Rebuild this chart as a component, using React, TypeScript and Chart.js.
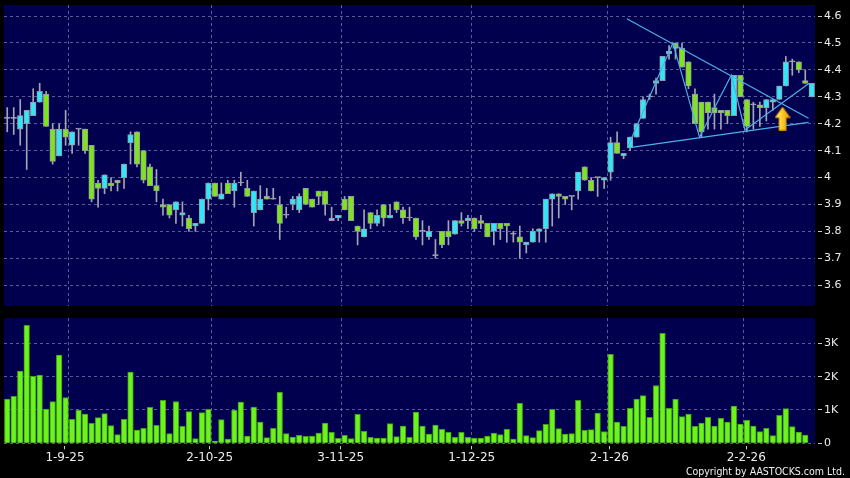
import React, { useEffect, useRef } from 'react';
import { Chart, registerables } from 'chart.js';

Chart.register(...registerables);

// ---- Data (index 0 = first trading day shown, ~18 Aug 2025) ----
const OPEN = [
  4.22, 4.22, 4.18, 4.20, 4.23, 4.28, 4.31, 4.18, 4.08, 4.18,
  4.12, 4.18, 4.18, 4.12, 3.98, 3.96, 3.98, 3.99, 4.00, 4.13,
  4.17, 4.10, 4.04, 3.97, 3.90, 3.90, 3.88, 3.86, 3.85, 3.82,
  3.83, 3.92, 3.98, 3.92, 3.98, 3.95, 3.98, 3.96, 3.87, 3.88,
  3.93, 3.92, 3.90, 3.86, 3.90, 3.88, 3.96, 3.92, 3.95, 3.95,
  3.84, 3.85, 3.92, 3.93, 3.82, 3.78, 3.87, 3.83, 3.90, 3.85,
  3.91, 3.88, 3.85, 3.85, 3.80, 3.78, 3.71, 3.80, 3.80, 3.79,
  3.84, 3.84, 3.85, 3.84, 3.83, 3.80, 3.83, 3.83, 3.79, 3.78,
  3.75, 3.76, 3.80, 3.81, 3.92, 3.94, 3.93, 3.93, 3.95, 4.04,
  3.99, 4.00, 3.99, 4.02, 4.13, 4.08, 4.11, 4.15, 4.22, 4.30,
  4.35, 4.36, 4.46, 4.50, 4.48, 4.43, 4.31, 4.28, 4.28, 4.26,
  4.25, 4.25, 4.23, 4.38, 4.29, 4.27, 4.27, 4.26, 4.28, 4.29,
  4.34, 4.43, 4.43, 4.36, 4.30,
];
const HIGH = [
  4.26, 4.26, 4.29, 4.25, 4.33, 4.35, 4.32, 4.20, 4.20, 4.25,
  4.17, 4.18, 4.18, 4.12, 3.99, 4.01, 4.00, 3.99, 4.05, 4.17,
  4.17, 4.10, 4.05, 4.03, 3.92, 3.90, 3.91, 3.91, 3.86, 3.83,
  3.92, 3.98, 3.98, 3.98, 3.99, 3.99, 4.02, 3.99, 3.95, 3.97,
  3.96, 3.96, 3.93, 3.89, 3.93, 3.94, 3.96, 3.92, 3.95, 3.95,
  3.89, 3.86, 3.93, 3.93, 3.82, 3.88, 3.87, 3.88, 3.90, 3.90,
  3.91, 3.89, 3.89, 3.85, 3.84, 3.82, 3.77, 3.80, 3.84, 3.84,
  3.87, 3.86, 3.85, 3.86, 3.83, 3.83, 3.83, 3.83, 3.80, 3.82,
  3.76, 3.81, 3.81, 3.92, 3.94, 3.94, 3.93, 3.93, 4.02, 4.04,
  4.00, 4.00, 4.00, 4.15, 4.17, 4.09, 4.15, 4.20, 4.30, 4.31,
  4.37, 4.45, 4.49, 4.50, 4.50, 4.43, 4.33, 4.28, 4.28, 4.31,
  4.25, 4.25, 4.38, 4.38, 4.29, 4.28, 4.28, 4.29, 4.29, 4.34,
  4.45, 4.44, 4.43, 4.40, 4.35,
];
const LOW = [
  4.17, 4.16, 4.12, 4.03, 4.23, 4.28, 4.19, 4.05, 4.08, 4.12,
  4.09, 4.12, 4.09, 3.91, 3.89, 3.94, 3.95, 3.95, 3.96, 4.05,
  4.04, 3.98, 3.97, 3.91, 3.86, 3.85, 3.83, 3.82, 3.80, 3.80,
  3.83, 3.88, 3.93, 3.92, 3.94, 3.89, 3.97, 3.93, 3.82, 3.88,
  3.92, 3.92, 3.77, 3.85, 3.88, 3.87, 3.90, 3.89, 3.90, 3.86,
  3.84, 3.84, 3.88, 3.84, 3.75, 3.78, 3.81, 3.82, 3.82, 3.85,
  3.87, 3.83, 3.84, 3.77, 3.75, 3.77, 3.70, 3.74, 3.75, 3.79,
  3.82, 3.81, 3.80, 3.81, 3.78, 3.75, 3.77, 3.76, 3.76, 3.70,
  3.72, 3.76, 3.76, 3.76, 3.82, 3.85, 3.90, 3.88, 3.92, 3.99,
  3.95, 3.93, 3.96, 3.99, 4.09, 4.07, 4.10, 4.15, 4.22, 4.29,
  4.31, 4.36, 4.44, 4.44, 4.41, 4.33, 4.20, 4.15, 4.18, 4.18,
  4.18, 4.20, 4.23, 4.30, 4.17, 4.18, 4.19, 4.21, 4.25, 4.29,
  4.34, 4.38, 4.39, 4.35, 4.30,
];
const CLOSE = [
  4.22, 4.22, 4.23, 4.25, 4.28, 4.32, 4.19, 4.06, 4.18, 4.15,
  4.17, 4.18, 4.10, 3.92, 3.96, 4.01, 3.97, 3.98, 4.05, 4.16,
  4.05, 3.99, 3.97, 3.95, 3.89, 3.86, 3.91, 3.87, 3.81, 3.83,
  3.92, 3.98, 3.93, 3.94, 3.94, 3.98, 3.98, 3.93, 3.95, 3.92,
  3.92, 3.92, 3.83, 3.86, 3.92, 3.93, 3.90, 3.89, 3.93, 3.90,
  3.85, 3.86, 3.88, 3.84, 3.80, 3.81, 3.83, 3.86, 3.85, 3.86,
  3.88, 3.85, 3.85, 3.78, 3.80, 3.80, 3.71, 3.75, 3.78, 3.84,
  3.83, 3.85, 3.81, 3.83, 3.78, 3.83, 3.81, 3.82, 3.79, 3.76,
  3.76, 3.80, 3.81, 3.92, 3.94, 3.93, 3.92, 3.93, 4.02, 3.99,
  3.95, 4.00, 4.00, 4.13, 4.09, 4.09, 4.15, 4.20, 4.29, 4.30,
  4.36, 4.45, 4.47, 4.48, 4.41, 4.34, 4.20, 4.17, 4.24, 4.24,
  4.24, 4.23, 4.38, 4.30, 4.19, 4.27, 4.26, 4.29, 4.29, 4.34,
  4.43, 4.43, 4.40, 4.35, 4.35,
];
// volume in thousands (last session has no volume bar)
const VOLUME = [
  1.33, 1.41, 2.17, 3.54, 2.01, 2.05, 1.03, 1.25, 2.65, 1.37,
  0.72, 1.00, 0.88, 0.60, 0.77, 0.89, 0.53, 0.26, 0.72, 2.14,
  0.40, 0.45, 1.08, 0.54, 1.29, 0.29, 1.25, 0.51, 0.95, 0.14,
  0.92, 1.02, 0.07, 0.71, 0.13, 1.00, 1.24, 0.22, 1.09, 0.64,
  0.17, 0.45, 1.53, 0.29, 0.19, 0.24, 0.21, 0.22, 0.31, 0.61,
  0.33, 0.15, 0.24, 0.14, 0.87, 0.36, 0.18, 0.16, 0.16, 0.59,
  0.20, 0.52, 0.18, 0.94, 0.52, 0.28, 0.55, 0.42, 0.33, 0.18,
  0.33, 0.18, 0.16, 0.16, 0.22, 0.31, 0.26, 0.42, 0.13, 1.20,
  0.23, 0.17, 0.38, 0.57, 1.02, 0.44, 0.28, 0.29, 1.29, 0.39,
  0.41, 0.91, 0.35, 2.67, 0.64, 0.51, 1.05, 1.33, 1.43, 0.78,
  1.73, 3.30, 1.05, 1.33, 0.80, 0.88, 0.51, 0.61, 0.78, 0.52,
  0.75, 0.64, 1.12, 0.58, 0.69, 0.52, 0.35, 0.45, 0.23, 0.84,
  1.04, 0.50, 0.34, 0.25, null,
];

const MONTH_GRID = [9.5, 31.5, 51.5, 71.5, 92.5, 113.5];
const DATE_LABELS = ['1-9-25', '2-10-25', '3-11-25', '1-12-25', '2-1-26', '2-2-26'];
const DATE_LABEL_POS = [8.9, 31.2, 51.4, 71.6, 92.8, 113.9];
const PRICE_TICKS = [3.6, 3.7, 3.8, 3.9, 4.0, 4.1, 4.2, 4.3, 4.4, 4.5, 4.6];
const VOLUME_TICKS = [0, 1, 2, 3];

const TREND_UPPER_X = [95.5, 123.5];
const TREND_UPPER_Y = [4.59, 4.22];
const TREND_LOWER_X = [96.2, 123.5];
const TREND_LOWER_Y = [4.112, 4.205];
const ZIGZAG_X = [95.6, 102.6, 106.7, 111.6, 113.7, 123.6];
const ZIGZAG_Y = [4.112, 4.50, 4.15, 4.38, 4.177, 4.35];
const ARROW_X = [119.5];
const ARROW_Y = [4.219];

// ---- styles ----
const NAVY = '#00004f';
const GRID = 'rgba(120,120,175,0.75)';
const CYAN = '#33e6f6';
const GREEN = '#7ee41e';
const WICK = '#a4a4b2';
const LINE_BLUE = '#4db0e6';
const TEXT = '#ececec';
const FONT = 'DejaVu Sans';

const areaBg = {
  id: 'areaBg',
  beforeDraw(chart: any) {
    const { ctx, chartArea: a } = chart;
    ctx.save();
    ctx.fillStyle = NAVY;
    ctx.fillRect(a.left, a.top, a.right - a.left, a.bottom - a.top);
    ctx.restore();
  },
};

function makeArrow() {
  const c = document.createElement('canvas');
  c.width = 16;
  c.height = 24;
  const g = c.getContext('2d')!;
  const grad = g.createLinearGradient(0, 0, 16, 0);
  grad.addColorStop(0, '#fff2a8');
  grad.addColorStop(0.45, '#ffcf2e');
  grad.addColorStop(1, '#e89200');
  g.beginPath();
  g.moveTo(8, 0.5);
  g.lineTo(15.5, 11);
  g.lineTo(11.5, 11);
  g.lineTo(11.5, 23.5);
  g.lineTo(4.5, 23.5);
  g.lineTo(4.5, 11);
  g.lineTo(0.5, 11);
  g.closePath();
  g.fillStyle = grad;
  g.fill();
  g.strokeStyle = '#d08a00';
  g.lineWidth = 1;
  g.stroke();
  return c;
}

const zeroPad = (s: any) => {
  s.paddingTop = 0;
  s.paddingBottom = 0;
  s.paddingLeft = 0;
  s.paddingRight = 0;
};

const pts = (xs: number[], ys: number[]) => xs.map((x, i) => ({ x, y: ys[i] }));

export default function App() {
  const topRef = useRef<HTMLCanvasElement>(null);
  const botRef = useRef<HTMLCanvasElement>(null);

  useEffect(() => {
    Chart.defaults.font.family = FONT;
    const idx = OPEN.map((_, i) => i);
    const bodyColors = idx.map((i) => (CLOSE[i] > OPEN[i] ? CYAN : CLOSE[i] < OPEN[i] ? GREEN : WICK));
    const bodyBorders = idx.map((i) => (CLOSE[i] === OPEN[i] ? WICK : 'rgba(150,150,165,1)'));

    const xGrid = {
      type: 'linear',
      min: -0.5,
      max: 124.5,
      offset: false,
      afterBuildTicks: (s: any) => {
        s.ticks = MONTH_GRID.map((v) => ({ value: v }));
      },
      afterFit: (s: any) => {
        s.height = 0;
        zeroPad(s);
      },
      ticks: { display: false },
      grid: { color: GRID, drawTicks: false, lineWidth: 1, offset: false },
      border: { display: false, dash: [3, 3] },
    };

    const top = new Chart(topRef.current!, {
      type: 'bar',
      data: {
        datasets: [
          {
            type: 'bar',
            data: idx.map((i) => ({ x: i, y: [LOW[i], HIGH[i]] })),
            backgroundColor: WICK,
            barThickness: 1,
            grouped: false,
            order: 4,
          } as any,
          {
            type: 'bar',
            data: idx.map((i) => ({ x: i, y: [OPEN[i], CLOSE[i]] })),
            backgroundColor: bodyColors,
            borderColor: bodyBorders,
            borderWidth: 1,
            borderSkipped: false,
            barThickness: 5.6,
            minBarLength: 1,
            grouped: false,
            order: 3,
          } as any,
          {
            type: 'line',
            data: pts(TREND_UPPER_X, TREND_UPPER_Y),
            borderColor: LINE_BLUE,
            borderWidth: 1.2,
            pointRadius: 0,
            order: 2,
          } as any,
          {
            type: 'line',
            data: pts(TREND_LOWER_X, TREND_LOWER_Y),
            borderColor: LINE_BLUE,
            borderWidth: 1.2,
            pointRadius: 0,
            order: 2,
          } as any,
          {
            type: 'line',
            data: pts(ZIGZAG_X, ZIGZAG_Y),
            borderColor: LINE_BLUE,
            borderWidth: 1.2,
            pointRadius: 0,
            tension: 0,
            order: 2,
          } as any,
          {
            type: 'scatter',
            data: pts(ARROW_X, ARROW_Y),
            pointStyle: makeArrow(),
            pointRadius: 8,
            order: 1,
          } as any,
        ],
      },
      options: {
        responsive: false,
        animation: false,
        devicePixelRatio: 1,
        layout: { autoPadding: false, padding: { left: 4, top: 5, right: 0, bottom: 4 } },
        plugins: { legend: { display: false }, tooltip: { enabled: false } },
        scales: {
          x: xGrid as any,
          y: {
            type: 'linear',
            position: 'right',
            min: 3.523,
            max: 4.641,
            afterBuildTicks: (s: any) => {
              s.ticks = PRICE_TICKS.map((v) => ({ value: v }));
            },
            afterFit: (s: any) => {
              s.width = 35;
              zeroPad(s);
            },
            ticks: {
              color: TEXT,
              font: { size: 11 },
              padding: 2,
              callback: (v: any) => String(Math.round(Number(v) * 10) / 10),
            },
            grid: { color: GRID, drawTicks: true, tickLength: 7, tickColor: '#c8c8c8', tickBorderDash: [0, 3, 4, 10] },
            border: { display: false, dash: [3, 3] },
          } as any,
        },
      },
      plugins: [areaBg],
    });

    const bottom = new Chart(botRef.current!, {
      type: 'bar',
      data: {
        datasets: [
          {
            data: idx.map((i) => ({ x: i, y: VOLUME[i] })),
            backgroundColor: '#6cf21c',
            borderColor: '#3f9e12',
            borderWidth: 1,
            borderSkipped: 'start',
            barThickness: 5.6,
          } as any,
        ],
      },
      options: {
        responsive: false,
        animation: false,
        devicePixelRatio: 1,
        layout: { autoPadding: false, padding: { left: 4, top: 8, right: 0, bottom: 0 } },
        plugins: { legend: { display: false }, tooltip: { enabled: false } },
        scales: {
          x: xGrid as any,
          xl: {
            type: 'linear',
            position: 'bottom',
            min: -0.5,
            max: 124.5,
            offset: false,
            afterBuildTicks: (s: any) => {
              s.ticks = DATE_LABEL_POS.map((v) => ({ value: v }));
            },
            afterFit: (s: any) => {
              s.height = 34.7;
              zeroPad(s);
            },
            ticks: {
              color: TEXT,
              font: { size: 12 },
              padding: 1,
              maxRotation: 0,
              autoSkip: false,
              callback: (_v: any, i: number) => DATE_LABELS[i],
            },
            grid: {
              display: true,
              offset: false,
              drawOnChartArea: false,
              drawTicks: true,
              tickLength: 6,
              tickColor: '#c8c8c8',
              tickBorderDash: [0, 3, 4, 10],
            },
            border: { display: false },
          } as any,
          y: {
            type: 'linear',
            position: 'right',
            min: 0,
            max: 3.76,
            afterBuildTicks: (s: any) => {
              s.ticks = VOLUME_TICKS.map((v) => ({ value: v }));
            },
            afterFit: (s: any) => {
              s.width = 35;
              zeroPad(s);
            },
            ticks: {
              color: TEXT,
              font: { size: 11 },
              padding: 2,
              callback: (v: any) => (Number(v) === 0 ? '0' : `${v}K`),
            },
            grid: { color: GRID, drawTicks: true, tickLength: 7, tickColor: '#c8c8c8', tickBorderDash: [0, 3, 4, 10] },
            border: { display: false, dash: [3, 3] },
          } as any,
        },
      },
      plugins: [areaBg],
    });

    return () => {
      top.destroy();
      bottom.destroy();
    };
  }, []);

  return (
    <div
      style={{
        position: 'absolute',
        left: 0,
        top: 0,
        width: 850,
        height: 478,
        background: '#000',
        overflow: 'hidden',
      }}
    >
      <canvas ref={topRef} width={850} height={310} style={{ position: 'absolute', left: 0, top: 0 }} />
      <canvas ref={botRef} width={850} height={168} style={{ position: 'absolute', left: 0, top: 310 }} />
      <div
        style={{
          position: 'absolute',
          right: 5,
          top: 464,
          font: '10.5px "DejaVu Sans Condensed", "DejaVu Sans", sans-serif',
          fontStretch: 'condensed',
          lineHeight: '14px',
          color: '#f0f0f0',
          whiteSpace: 'nowrap',
        }}
      >
        Copyright by AASTOCKS.com Ltd.
      </div>
    </div>
  );
}
